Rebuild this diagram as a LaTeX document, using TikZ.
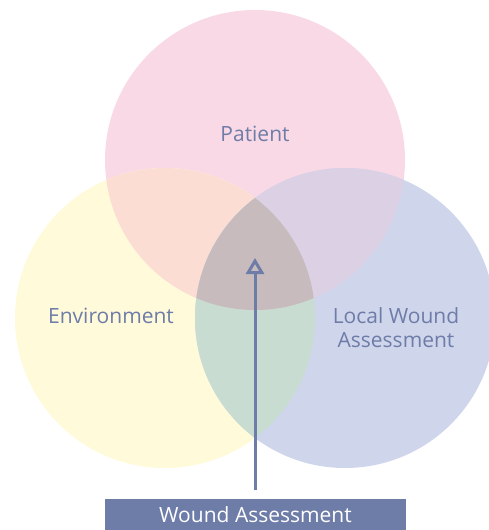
\documentclass[tikz,border=0pt]{standalone}
\usepackage{fontspec}
\setmainfont{Open Sans}
\usetikzlibrary{arrows.meta}
\definecolor{pinkc}{HTML}{F9D9E6}
\definecolor{yellowc}{HTML}{FFFAD9}
\definecolor{bluec}{HTML}{CFD5EB}
\definecolor{py}{HTML}{FCDDD4}
\definecolor{pb}{HTML}{DCD0E5}
\definecolor{yb}{HTML}{C9DCD1}
\definecolor{pyb}{HTML}{C7BBBE}
\definecolor{slate}{HTML}{6E7CA8}
\begin{document}
\begin{tikzpicture}[x=1pt,y=-1pt,
  lbl/.style={text=slate,font=\fontsize{21}{24}\selectfont,align=center},
  circ/.style={circle,minimum size=300pt,inner sep=0pt}]
\useasboundingbox (0,0) rectangle (489,530);
\begin{scope}
\clip (0,0) rectangle (489,530);
\node[circ,fill=pinkc] (pat) at (255,160) {};
\node[circ,fill=yellowc] (env) at (165,318) {};
\node[circ,fill=bluec] (loc) at (345,318) {};
\begin{scope}
\clip (255,160) circle[radius=150pt];
\fill[py] (165,318) circle[radius=150pt];
\fill[pb] (345,318) circle[radius=150pt];
\end{scope}
\begin{scope}
\clip (165,318) circle[radius=150pt];
\fill[yb] (345,318) circle[radius=150pt];
\clip (345,318) circle[radius=150pt];
\fill[pyb] (255,160) circle[radius=150pt];
\end{scope}
\end{scope}
\node[lbl] (tpat) at (255,134) {Patient};
\node[lbl] (tenv) at (111,316) {Environment};
\node[lbl,inner sep=0pt] (tloc) at (396,328) {Local Wound\\Assessment};
\node[fill=slate,text=white,minimum width=301pt,minimum height=32pt,inner sep=0pt,
  font=\fontsize{21}{24}\selectfont] (box) at (255.5,515) {Wound Assessment};
\coordinate (tip) at (255,258);
\coordinate (start) at (255,490);
\draw[slate,line width=3pt,-{Triangle[open,length=16pt,width=18pt,line width=3pt]}] (start) -- (tip);
\end{tikzpicture}
\end{document}
